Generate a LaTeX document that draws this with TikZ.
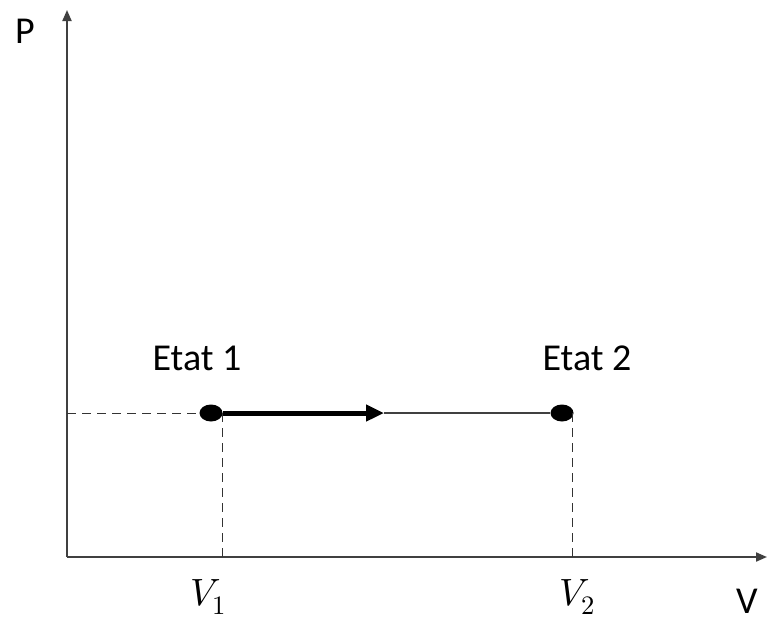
\documentclass[tikz,border=0pt]{standalone}
\usepackage{fontspec}
\usepackage{unicode-math}
\setmainfont{Carlito}
\setmathfont{Latin Modern Math}
\usetikzlibrary{arrows.meta,shapes.geometric}
\begin{document}
\begin{tikzpicture}[x=1pt,y=-1pt,
  axis/.style={line width=2pt,draw=black!75,-{Triangle[length=11pt,width=9pt]}},
  guide/.style={draw=black!80,line width=1pt,dash pattern=on 9pt off 6pt},
  statedot/.style={ellipse,fill=black,minimum width=23pt,minimum height=17pt,inner sep=0pt},
  lbl/.style={font=\fontsize{38}{42}\selectfont,inner sep=0pt}]
\useasboundingbox (0,0) rectangle (767,621);
\coordinate (O) at (67,557);
\coordinate (Ytop) at (67,10);
\coordinate (Xend) at (767,557);
\draw[axis] (O) -- (Ytop);
\draw[axis] (O) -- (Xend);
\node[statedot] (s1) at (211,413) {};
\node[statedot] (s2) at (562,413) {};
\coordinate (yleft) at (67,413);
\coordinate (mid) at (384,413);
\coordinate (f1) at (222,557);
\coordinate (f2) at (572,557);
\coordinate (t1) at (222,413);
\coordinate (t2) at (572,413);
\draw[guide] (yleft) -- (s1.west);
\draw[guide] (t1) -- (f1);
\draw[guide] (t2) -- (f2);
\draw[line width=2pt,draw=black!75] (mid) -- (s2.west);
\draw[line width=5pt,-{Triangle[length=18pt,width=16pt]}] (s1.east) -- (mid);
\node[lbl,anchor=base] (P) at (25,43) {P};
\node[lbl,anchor=base,text depth=0pt] (V) at (747,613) {V};
\node[lbl,anchor=base] (e1) at (197,370) {Etat 1};
\node[lbl,anchor=base] (e2) at (587,370) {Etat 2};
\node[lbl,anchor=base] (v1) at (208,605) {$V_1$};
\node[lbl,anchor=base] (v2) at (577,605) {$V_2$};
\end{tikzpicture}
\end{document}
